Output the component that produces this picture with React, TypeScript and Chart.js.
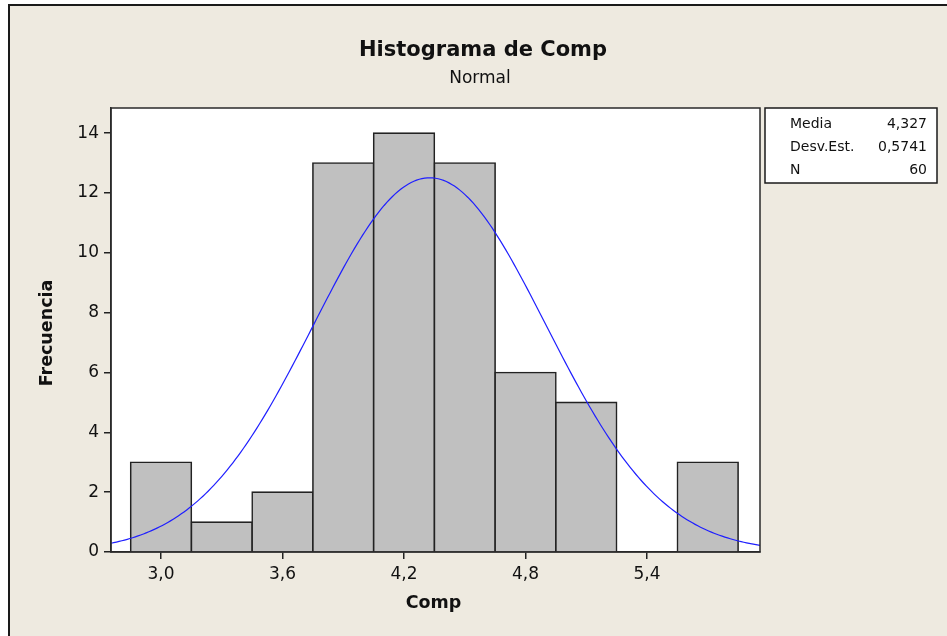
import React, { useEffect, useRef } from "react";
import { Chart, registerables } from "chart.js";

Chart.register(...registerables);

// Histogram bins (centres) and their frequencies
const BIN_CENTERS = [3.0, 3.3, 3.6, 3.9, 4.2, 4.5, 4.8, 5.1, 5.4, 5.7];
const FREQUENCIES = [3, 1, 2, 13, 14, 13, 6, 5, 0, 3];
const BIN_WIDTH = 0.3;

// Axis ticks
const X_TICKS = [3.0, 3.6, 4.2, 4.8, 5.4];
const Y_TICKS = [0, 2, 4, 6, 8, 10, 12, 14];
const X_MIN = 2.753;
const X_MAX = 5.958;
const Y_MAX = 14.84;

// Summary statistics of the sample
const MEAN = 4.327;
const STDEV = 0.5741;
const N = 60;
const STAT_LABELS = ["Media", "Desv.Est.", "N"];
const STAT_VALUES = ["4,327", "0,5741", "60"];

const TITLE = "Histograma de Comp";
const SUBTITLE = "Normal";
const X_TITLE = "Comp";
const Y_TITLE = "Frecuencia";

const BG = "#EEEAE0";
const FONT = "'DejaVu Sans', Tahoma, Verdana, sans-serif";

// Fitted normal density scaled to counts per bin
function normalCurve(): { x: number; y: number }[] {
  const pts: { x: number; y: number }[] = [];
  const steps = 240;
  const k = (N * BIN_WIDTH) / (STDEV * Math.sqrt(2 * Math.PI));
  for (let i = 0; i <= steps; i++) {
    const x = X_MIN + ((X_MAX - X_MIN) * i) / steps;
    const z = (x - MEAN) / STDEV;
    pts.push({ x, y: k * Math.exp(-0.5 * z * z) });
  }
  return pts;
}

const decorations = {
  id: "decorations",
  beforeDraw(chart: any) {
    const { ctx, width, height, chartArea: a } = chart;
    ctx.save();
    ctx.fillStyle = "#ffffff";
    ctx.fillRect(0, 0, width, height);
    ctx.fillStyle = BG;
    ctx.fillRect(8, 4, width - 8, height - 4);
    ctx.strokeStyle = "#1a1a1a";
    ctx.lineWidth = 2;
    ctx.beginPath();
    ctx.moveTo(9, height);
    ctx.lineTo(9, 5);
    ctx.lineTo(width, 5);
    ctx.stroke();
    ctx.fillStyle = "#ffffff";
    ctx.fillRect(a.left, a.top, a.right - a.left, a.bottom - a.top);
    ctx.restore();
  },
  afterDraw(chart: any) {
    const { ctx, chartArea: a } = chart;
    ctx.save();
    // plot frame
    ctx.strokeStyle = "#2a2a2a";
    ctx.lineWidth = 1.5;
    ctx.strokeRect(a.left, a.top, a.right - a.left, a.bottom - a.top);

    // titles
    ctx.fillStyle = "#111";
    ctx.textAlign = "center";
    ctx.textBaseline = "middle";
    ctx.font = `bold 21px ${FONT}`;
    ctx.fillText(TITLE, 483, 51);
    ctx.font = `17px ${FONT}`;
    ctx.fillText(SUBTITLE, 480, 79);

    // axis titles
    ctx.font = `bold 17.5px ${FONT}`;
    ctx.fillText(X_TITLE, (a.left + a.right) / 2 - 2, 603);
    ctx.save();
    ctx.translate(47, (a.top + a.bottom) / 2 + 3);
    ctx.rotate(-Math.PI / 2);
    ctx.fillText(Y_TITLE, 0, 0);
    ctx.restore();

    // statistics box
    const bx = 765, by = a.top, bw = 172, bh = 75;
    ctx.fillStyle = "#ffffff";
    ctx.fillRect(bx, by, bw, bh);
    ctx.strokeStyle = "#1a1a1a";
    ctx.lineWidth = 1.5;
    ctx.strokeRect(bx, by, bw, bh);
    ctx.fillStyle = "#111";
    ctx.font = `14px ${FONT}`;
    STAT_LABELS.forEach((lab, i) => {
      const y = by + 16 + i * 23;
      ctx.textAlign = "left";
      ctx.fillText(lab, bx + 25, y);
      ctx.textAlign = "right";
      ctx.fillText(STAT_VALUES[i], bx + bw - 10, y);
    });
    ctx.restore();
  },
};

export default function App() {
  const ref = useRef<HTMLCanvasElement | null>(null);

  useEffect(() => {
    if (!ref.current) return;
    const bars = BIN_CENTERS.map((x, i) => ({ x, y: FREQUENCIES[i] }));
    const chart = new Chart(ref.current, {
      type: "bar",
      data: {
        datasets: [
          {
            type: "line",
            data: normalCurve(),
            borderColor: "#1f1fff",
            borderWidth: 1.2,
            pointRadius: 0,
            tension: 0,
            order: 0,
          } as any,
          {
            type: "bar",
            data: bars,
            backgroundColor: "#C0C0C0",
            borderColor: "#222222",
            borderWidth: 1.6,
            inflateAmount: 0.8,
            barPercentage: 1,
            categoryPercentage: 1,
            order: 1,
          } as any,
        ],
      },
      options: {
        responsive: false,
        animation: false,
        events: [],
        layout: { padding: { top: 108, right: 187, left: 61, bottom: 34 } },
        plugins: {
          legend: { display: false },
          tooltip: { enabled: false },
          title: { display: false },
        },
        scales: {
          x: {
            type: "linear",
            min: X_MIN,
            max: X_MAX,
            offset: false,
            afterBuildTicks: (s: any) => {
              s.ticks = X_TICKS.map((v) => ({ value: v }));
            },
            afterFit: (s: any) => {
              s.height = 50;
            },
            grid: {
              offset: false,
              drawOnChartArea: false,
              drawTicks: true,
              tickLength: 7,
              color: "#222",
              lineWidth: 1.5,
            },
            border: { display: true, color: "#2a2a2a", width: 1.5 },
            ticks: {
              font: { family: FONT, size: 17 },
              color: "#111",
              padding: 5,
              maxRotation: 0,
              autoSkip: false,
              callback: (v: any) => Number(v).toFixed(1).replace(".", ","),
            },
          },
          y: {
            min: 0,
            max: Y_MAX,
            afterBuildTicks: (s: any) => {
              s.ticks = Y_TICKS.map((v) => ({ value: v }));
            },
            afterFit: (s: any) => {
              s.width = 50;
            },
            grid: {
              offset: false,
              drawOnChartArea: false,
              drawTicks: true,
              tickLength: 7,
              color: "#222",
              lineWidth: 1.5,
            },
            border: { display: true, color: "#2a2a2a", width: 1.5 },
            ticks: {
              font: { family: FONT, size: 17 },
              color: "#111",
              padding: 5,
              autoSkip: false,
              callback: (v: any) => String(v),
            },
          },
        },
      },
      plugins: [decorations],
    });
    return () => chart.destroy();
  }, []);

  return (
    <div style={{ position: "absolute", left: 0, top: 0, width: 947, height: 636 }}>
      <canvas ref={ref} width={947} height={636} style={{ display: "block" }} />
    </div>
  );
}
